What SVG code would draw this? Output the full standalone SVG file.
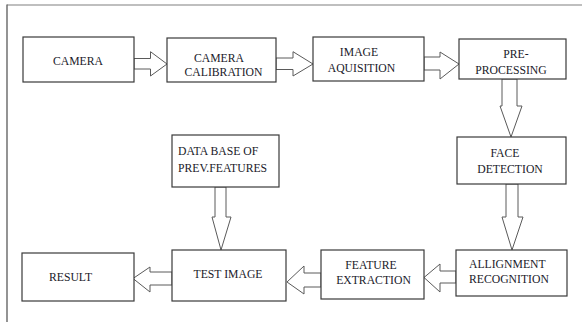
<svg xmlns="http://www.w3.org/2000/svg" width="582" height="322" viewBox="0 0 582 322">
<style>
.box{fill:#fff;stroke:#3a3a3a;stroke-width:1.2}
.arr{fill:#fff;stroke:#5a5a5a;stroke-width:1}
text{font-family:"Liberation Serif","Times New Roman",serif;font-size:11.7px;fill:#1a1a2a}
.c{text-anchor:middle}
</style>
<rect width="582" height="322" fill="#fff"/>
<line x1="7" y1="5" x2="582" y2="5" stroke="#aaa" stroke-width="1.6"/>
<line x1="7" y1="4.5" x2="7" y2="322" stroke="#666" stroke-width="1.4"/>
<g id="connectors">
<polygon class="arr" points="134,58.5 150.5,58.5 150.5,51.7 167,64 150.5,76 150.5,69 134,69"/>
<polygon class="arr" points="276,58 293,58 293,51.7 313,64 293,76 293,69.5 276,69.5"/>
<polygon class="arr" points="424,57 440,57 440,52 459,64 440,79 440,70 424,70"/>
<polygon class="arr" points="502,79 517,79 517,106 522,106 511,137 500,106 502,106"/>
<polygon class="arr" points="506,184 518,184 518,217 523,217 512,250 502,217 506,217"/>
<polygon class="arr" points="456,271 440,271 440,264 424,277.5 440,292 440,283 456,283"/>
<polygon class="arr" points="321,273 304,273 304,266 287,282 304,294 304,287 321,287"/>
<polygon class="arr" points="172,272 150,272 150,267 133,278.5 150,292 150,285 172,285"/>
<polygon class="arr" points="215,187 226,187 226,217 231,217 221,250 212,217 215,217"/>
</g>
<g id="camera"><rect class="box" x="23" y="37" width="111" height="45"/><text class="c" x="78" y="65">CAMERA</text></g>
<g id="calibration"><rect class="box" x="167" y="38" width="109" height="44"/><text class="c" x="219" y="62">CAMERA</text><text class="c" x="223.5" y="76">CALIBRATION</text></g>
<g id="acquisition"><rect class="box" x="313" y="37" width="111" height="44"/><text class="c" x="359" y="56">IMAGE</text><text class="c" x="361.5" y="72">AQUISITION</text></g>
<g id="preprocessing"><rect class="box" x="459" y="39" width="107" height="40"/><text class="c" x="516" y="58">PRE-</text><text class="c" x="511" y="74">PROCESSING</text></g>
<g id="face"><rect class="box" x="457" y="137" width="109" height="47"/><text class="c" x="505" y="157">FACE</text><text class="c" x="510" y="173">DETECTION</text></g>
<g id="alignment"><rect class="box" x="456" y="250" width="111" height="46"/><text x="469" y="268">ALLIGNMENT</text><text x="469" y="283">RECOGNITION</text></g>
<g id="feature"><rect class="box" x="321" y="250" width="103" height="49"/><text class="c" x="371" y="269">FEATURE</text><text class="c" x="373.5" y="284">EXTRACTION</text></g>
<g id="test"><rect class="box" x="172" y="250" width="114" height="51"/><text class="c" x="228" y="278">TEST IMAGE</text></g>
<g id="result"><rect class="box" x="22" y="253" width="112" height="48"/><text class="c" x="70.5" y="281">RESULT</text></g>
<g id="database"><rect class="box" x="172" y="135" width="107" height="52"/><text x="178" y="155">DATA BASE OF</text><text x="178" y="172">PREV.FEATURES</text></g>
</svg>
